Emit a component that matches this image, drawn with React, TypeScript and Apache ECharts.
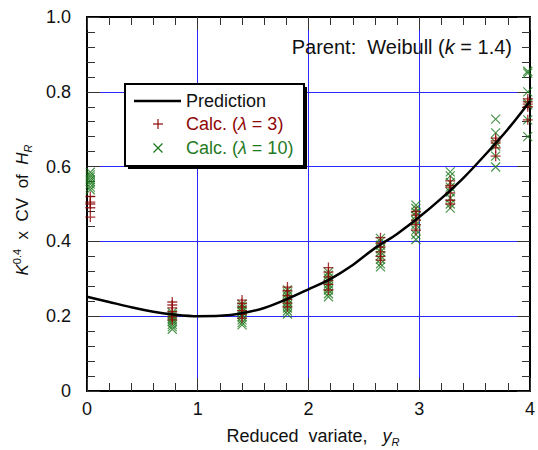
import { useEffect, useRef } from "react";
import * as echarts from "echarts";

// Prediction curve (reduced variate vs. scaled CV)
const predX = [0, 0.2, 0.4, 0.6, 0.8, 1.0, 1.2, 1.4, 1.6, 1.8, 2.0, 2.2, 2.4, 2.6, 2.8, 3.0, 3.2, 3.4, 3.6, 3.8, 4.0];
const predY = [0.252, 0.238, 0.224, 0.212, 0.204, 0.2, 0.201, 0.208, 0.222, 0.245, 0.272, 0.3, 0.337, 0.382, 0.42, 0.465, 0.515, 0.57, 0.633, 0.7, 0.775];

// Reduced-variate positions of the calculated clusters
const calcX = [0.03, 0.77, 1.4, 1.81, 2.18, 2.65, 2.97, 3.28, 3.69, 3.98];

// Calculated values, lambda = 3
const calcL3 = [
  [0.52, 0.505, 0.5, 0.49, 0.465],
  [0.238, 0.23, 0.222, 0.212, 0.205, 0.198, 0.19],
  [0.243, 0.234, 0.225, 0.215, 0.205, 0.195],
  [0.278, 0.268, 0.255, 0.245, 0.235, 0.225],
  [0.33, 0.318, 0.305, 0.295, 0.285, 0.27],
  [0.41, 0.395, 0.385, 0.372, 0.36, 0.35],
  [0.48, 0.47, 0.457, 0.445, 0.43],
  [0.562, 0.55, 0.545, 0.53, 0.51, 0.5],
  [0.676, 0.669, 0.663, 0.65, 0.628],
  [0.781, 0.773, 0.767, 0.76, 0.725],
];

// Calculated values, lambda = 10
const calcL10 = [
  [0.585, 0.578, 0.572, 0.565, 0.56, 0.553, 0.545, 0.538],
  [0.21, 0.205, 0.2, 0.195, 0.19, 0.185, 0.178, 0.172, 0.165],
  [0.232, 0.225, 0.218, 0.212, 0.205, 0.198, 0.19, 0.183, 0.177],
  [0.27, 0.262, 0.254, 0.246, 0.238, 0.23, 0.222, 0.214, 0.206],
  [0.318, 0.31, 0.302, 0.294, 0.286, 0.278, 0.27, 0.26, 0.252],
  [0.408, 0.4, 0.39, 0.38, 0.372, 0.362, 0.352, 0.34, 0.332],
  [0.497, 0.488, 0.478, 0.468, 0.455, 0.445, 0.43, 0.418, 0.405],
  [0.586, 0.575, 0.558, 0.545, 0.532, 0.516, 0.5, 0.489],
  [0.727, 0.69, 0.665, 0.655, 0.628, 0.599],
  [0.855, 0.85, 0.8, 0.77, 0.765, 0.725, 0.68],
];

const xTickLabels = ["0", "1", "2", "3", "4"];
const yTickLabels = ["0", "0.2", "0.4", "0.6", "0.8", "1.0"];

const RED = "#8f0808";
const GREEN = "#1f7a1f";
const GRIDBLUE = "#2a2aff";
const FONT = "'Liberation Sans', Arial, sans-serif";

const PLUS = "path://M5,0L5,10M0,5L10,5";
const CROSS = "path://M0,0L10,10M10,0L0,10";

function flatten(xs: number[], groups: number[][]): number[][] {
  const out: number[][] = [];
  groups.forEach((g, i) => g.forEach((v) => out.push([xs[i], v])));
  return out;
}

export default function App() {
  const ref = useRef<HTMLDivElement>(null);

  useEffect(() => {
    if (!ref.current) return;
    const chart = echarts.init(ref.current, undefined, { renderer: "svg" });

    const axisCommon = {
      type: "value" as const,
      axisLine: { show: true, onZero: false, lineStyle: { color: "#000", width: 2 } },
      axisTick: { show: true, inside: true, length: 13, lineStyle: { color: "#333", width: 1 } },
      minorTick: { show: true, splitNumber: 5, length: 8, lineStyle: { color: "#333", width: 1 } },
    };

    const tickText = { color: "#111", fontSize: 18, fontFamily: FONT };

    chart.setOption({
      animation: false,
      backgroundColor: "#fff",
      grid: { left: 87, right: 5, top: 17, bottom: 59, containLabel: false },
      xAxis: [
        {
          ...axisCommon,
          min: 0,
          max: 4,
          interval: 1,
          position: "bottom",
          axisLabel: {
            ...tickText,
            margin: 9,
            formatter: (v: number) => xTickLabels[Math.round(v)] ?? "",
          },
          splitLine: { show: true, lineStyle: { color: GRIDBLUE, width: 1 } },
        },
        {
          ...axisCommon,
          min: 0,
          max: 4,
          interval: 1,
          position: "top",
          axisLabel: { show: false },
          splitLine: { show: false },
        },
      ],
      yAxis: [
        {
          ...axisCommon,
          min: 0,
          max: 1,
          interval: 0.2,
          position: "left",
          axisLabel: {
            ...tickText,
            margin: 16,
            formatter: (v: number) => yTickLabels[Math.round(v / 0.2)] ?? "",
          },
          splitLine: { show: true, lineStyle: { color: GRIDBLUE, width: 1 } },
        },
        {
          ...axisCommon,
          min: 0,
          max: 1,
          interval: 0.2,
          position: "right",
          axisLabel: { show: false },
          splitLine: { show: false },
        },
      ],
      series: [
        {
          name: "Calc. (λ = 10)",
          type: "scatter",
          data: flatten(calcX, calcL10),
          symbol: CROSS,
          symbolSize: 9,
          itemStyle: { color: "rgba(0,0,0,0)", borderColor: GREEN, borderWidth: 1.2 },
          z: 3,
        },
        {
          name: "Calc. (λ = 3)",
          type: "scatter",
          data: flatten(calcX, calcL3),
          symbol: PLUS,
          symbolSize: 10,
          itemStyle: { color: "rgba(0,0,0,0)", borderColor: RED, borderWidth: 1.3 },
          z: 4,
        },
        {
          name: "Prediction",
          type: "line",
          data: predX.map((x, i) => [x, predY[i]]),
          showSymbol: false,
          smooth: 0.3,
          lineStyle: { color: "#000", width: 2.5 },
          z: 5,
        },
      ],
      graphic: [
        // y-axis title
        {
          type: "text",
          x: 22,
          y: 210,
          rotation: Math.PI / 2,
          style: {
            text: "{i|K}{sup|0.4}{n|  x  CV  of  }{i|H}{sub|R}",
            align: "center",
            verticalAlign: "middle",
            fill: "#111",
            rich: {
              i: { fontSize: 17, fontStyle: "italic", fontFamily: FONT, lineHeight: 22, fill: "#111" },
              n: { fontSize: 17, fontFamily: FONT, lineHeight: 22, fill: "#111" },
              sup: { fontSize: 11, fontFamily: FONT, lineHeight: 11, verticalAlign: "top", fill: "#111" },
              sub: { fontSize: 11, fontStyle: "italic", fontFamily: FONT, lineHeight: 11, verticalAlign: "bottom", fill: "#111" },
            },
          },
        },
        // x-axis title
        {
          type: "text",
          x: 313,
          y: 436,
          style: {
            text: "{n|Reduced  variate,   }{i|y}{sub|R}",
            align: "center",
            verticalAlign: "middle",
            fill: "#111",
            rich: {
              i: { fontSize: 18, fontStyle: "italic", fontFamily: FONT, lineHeight: 22, fill: "#111" },
              n: { fontSize: 18, fontFamily: FONT, lineHeight: 22, fill: "#111" },
              sub: { fontSize: 11, fontStyle: "italic", fontFamily: FONT, lineHeight: 11, verticalAlign: "bottom", fill: "#111" },
            },
          },
        },
        // parent distribution note
        {
          type: "text",
          x: 512,
          y: 47,
          z: 10,
          style: {
            text: "{n|Parent:  Weibull (}{i|k}{n| = 1.4)}",
            align: "right",
            verticalAlign: "middle",
            rich: {
              i: { fontSize: 20, fontStyle: "italic", fontFamily: FONT, fill: "#111" },
              n: { fontSize: 20, fontFamily: FONT, fill: "#111" },
            },
          },
        },
        // legend box
        {
          type: "group",
          z: 20,
          children: [
            { type: "rect", shape: { x: 128, y: 87, width: 179, height: 82 }, style: { fill: "#000" }, z: 20 },
            { type: "rect", shape: { x: 125, y: 84, width: 179, height: 82 }, style: { fill: "#fff", stroke: "#000", lineWidth: 2 }, z: 21 },
            { type: "line", shape: { x1: 134, y1: 101, x2: 181, y2: 101 }, style: { stroke: "#000", lineWidth: 2.5 }, z: 22 },
            {
              type: "text",
              x: 186,
              y: 101,
              z: 22,
              style: { text: "Prediction", fontSize: 18, fontFamily: FONT, fill: "#111", verticalAlign: "middle" },
            },
            { type: "line", shape: { x1: 158, y1: 119, x2: 158, y2: 129 }, style: { stroke: RED, lineWidth: 1.2 }, z: 22 },
            { type: "line", shape: { x1: 153, y1: 124, x2: 163, y2: 124 }, style: { stroke: RED, lineWidth: 1.2 }, z: 22 },
            {
              type: "text",
              x: 186,
              y: 124,
              z: 22,
              style: {
                text: "{n|Calc. (}{i|λ}{n| = 3)}",
                verticalAlign: "middle",
                rich: {
                  n: { fontSize: 18, fontFamily: FONT, fill: RED },
                  i: { fontSize: 18, fontStyle: "italic", fontFamily: FONT, fill: RED },
                },
              },
            },
            { type: "line", shape: { x1: 153.5, y1: 143.5, x2: 162.5, y2: 152.5 }, style: { stroke: GREEN, lineWidth: 1.2 }, z: 22 },
            { type: "line", shape: { x1: 162.5, y1: 143.5, x2: 153.5, y2: 152.5 }, style: { stroke: GREEN, lineWidth: 1.2 }, z: 22 },
            {
              type: "text",
              x: 186,
              y: 148,
              z: 22,
              style: {
                text: "{n|Calc. (}{i|λ}{n| = 10)}",
                verticalAlign: "middle",
                rich: {
                  n: { fontSize: 18, fontFamily: FONT, fill: GREEN },
                  i: { fontSize: 18, fontStyle: "italic", fontFamily: FONT, fill: GREEN },
                },
              },
            },
          ],
        },
      ],
    });

    return () => chart.dispose();
  }, []);

  return (
    <div
      ref={ref}
      style={{ position: "fixed", left: 0, top: 0, width: 538, height: 450 }}
    />
  );
}
